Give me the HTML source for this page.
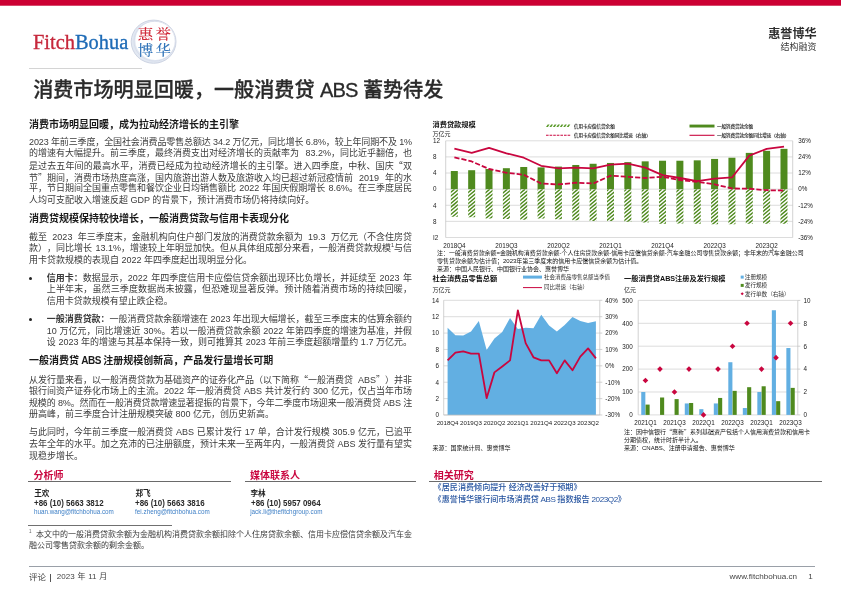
<!DOCTYPE html>
<html lang="zh-CN"><head><meta charset="utf-8"><title>消费市场明显回暖，一般消费贷 ABS 蓄势待发</title>
<style>
html,body{margin:0;padding:0;background:#fff}
body{width:841px;height:595px;position:relative;overflow:hidden;font-family:"Liberation Sans","Noto Sans CJK SC",sans-serif;color:#2b2b2b}
div,span,a{box-sizing:border-box}
.a{position:absolute;white-space:nowrap}
.cj{font-family:"Noto Sans CJK SC",sans-serif}
.topbar{left:0;top:0;width:841px;height:6px;background:linear-gradient(#cc0033 0,#cc0033 5px,#d64a6c 5.5px,#fff 6px)}
.ln{position:absolute;left:29px;width:383px;height:11px;line-height:11px;font-size:9px;white-space:nowrap;text-align:justify;text-align-last:justify;color:#3a3a3a;text-spacing-trim:space-all}
.ln.last{text-align:left;text-align-last:left}
.ln.b{left:46.8px;width:365.2px}
.h{position:absolute;left:29px;font-size:10px;font-weight:bold;line-height:12px;height:12px;white-space:nowrap;color:#1a1a1a}
.red{color:#c9063f}
.hl{position:absolute;height:0;border-top:1px solid #6a6a6a}
svg text{font-family:"Liberation Sans","Noto Sans CJK SC",sans-serif}
</style></head>
<body>
<div class="a topbar"></div>
<div class="a" id="logo" style="left:32.6px;top:29.2px;font-family:'Liberation Serif',serif;font-size:21.6px;line-height:26px;font-weight:normal;-webkit-text-stroke:0.35px;transform-origin:0 0;transform:scaleX(0.945)"><span style="color:#c6283c;-webkit-text-stroke-color:#c6283c">Fitch</span><span style="color:#1f6cb7;-webkit-text-stroke-color:#1f6cb7">Bohua</span></div>
<svg class="a" style="left:129px;top:15px" width="52" height="54" viewBox="0 0 52 54">
<ellipse cx="24.6" cy="26.7" rx="22.4" ry="21.6" fill="#e2e8f2" stroke="#c9d0e0" stroke-width="0.9"/>
<ellipse cx="26.3" cy="25.7" rx="19.9" ry="19.3" fill="#ffffff"/>
<ellipse cx="25.6" cy="26.2" rx="20.6" ry="19.9" fill="none" stroke="#d3d9e6" stroke-width="0.7"/>
<g transform="translate(0 19.5) scale(1 0.9) translate(0 -19.5)"><text x="26.6" y="24.6" text-anchor="middle" font-size="15.5" letter-spacing="2.4" style="font-family:'Noto Serif CJK SC','Liberation Serif',serif;font-weight:500" fill="#d02a3a">惠誉</text></g>
<g transform="translate(0 35.5) scale(1 0.9) translate(0 -35.5)"><text x="26.6" y="41" text-anchor="middle" font-size="15.5" letter-spacing="2.4" style="font-family:'Noto Serif CJK SC','Liberation Serif',serif;font-weight:500" fill="#3375ba">博华</text></g>
</svg>
<div class="a" style="left:29px;top:68px;width:113px;height:0;border-top:1px solid #d4d4d4"></div>
<div class="a" style="right:24.4px;top:26px;font-size:12.1px;font-weight:bold;line-height:16px;color:#2e2e2e;text-align:right">惠誉博华</div>
<div class="a" style="right:24.6px;top:41px;font-size:9px;line-height:12px;color:#3a3a3a;text-align:right">结构融资</div>
<div class="a" id="title" style="left:33.2px;top:75px;font-size:20.1px;font-weight:500;-webkit-text-stroke:0.3px #2a2a2a;line-height:30px;color:#2a2a2a">消费市场明显回暖，一般消费贷 <span style="letter-spacing:-1px">ABS</span> 蓄势待发</div>
<div class="h" style="top:118.50px">消费市场明显回暖，成为拉动经济增长的主引擎</div>
<div class="ln w" id="L0" style="top:136.80px;letter-spacing:-0.128px;">2023 年前三季度，全国社会消费品零售总额达 34.2 万亿元，同比增长 6.8%，较上年同期不及 1%</div>
<div class="ln w" id="L1" style="top:148.47px;word-spacing:3.969px;text-align:left;text-align-last:left;">的增速有大幅提升。前三季度，最终消费支出对经济增长的贡献率为 83.2%，同比近乎翻倍，也</div>
<div class="ln" id="L2" style="top:160.14px;">是过去五年间的最高水平，消费已经成为拉动经济增长的主引擎。进入四季度，中秋、国庆<span class="cj">“</span>双</div>
<div class="ln w" id="L3" style="top:171.81px;word-spacing:3.469px;text-align:left;text-align-last:left;">节<span class="cj">”</span>期间，消费市场热度高涨，国内旅游出游人数及旅游收入均已超过新冠疫情前 2019 年的水</div>
<div class="ln w" id="L4" style="top:183.48px;word-spacing:0.651px;text-align:left;text-align-last:left;">平，节日期间全国重点零售和餐饮企业日均销售额比 2022 年国庆假期增长 8.6%。在三季度居民</div>
<div class="ln last w" id="L5" style="top:195.15px;">人均可支配收入增速反超 GDP 的背景下，预计消费市场仍将持续向好。</div>
<div class="h" style="top:212.80px">消费贷规模保持较快增长，一般消费贷款与信用卡表现分化</div>
<div class="ln w" id="L6" style="top:231.50px;word-spacing:2.863px;text-align:left;text-align-last:left;">截至 2023 年三季度末，金融机构向住户部门发放的消费贷款余额为 19.3 万亿元（不含住房贷</div>
<div class="ln w" id="L7" style="top:243.17px;word-spacing:0.891px;text-align:left;text-align-last:left;">款），同比增长 13.1%，增速较上年明显加快。但从具体组成部分来看，一般消费贷款规模<sup style="font-size:5.5px;line-height:0">1</sup>与信</div>
<div class="ln last w" id="L8" style="top:254.84px;">用卡贷款规模的表现自 2022 年四季度起出现明显分化。</div>
<div class="a" style="left:28.9px;top:276.9px;width:3.3px;height:3.3px;border-radius:50%;background:#222"></div>
<div class="ln b w" id="L9" style="top:272.70px;word-spacing:0.879px;text-align:left;text-align-last:left;"><b>信用卡：</b>数据显示，2022 年四季度信用卡应偿信贷余额出现环比负增长，并延续至 2023 年</div>
<div class="ln b" id="L10" style="top:284.37px;">上半年末，虽然三季度数据尚未披露，但恐难现显著反弹。预计随着消费市场的持续回暖，</div>
<div class="ln b last" id="L11" style="top:296.04px;">信用卡贷款规模有望止跌企稳。</div>
<div class="a" style="left:28.9px;top:318.2px;width:3.3px;height:3.3px;border-radius:50%;background:#222"></div>
<div class="ln b w" id="L12" style="top:314.00px;letter-spacing:-0.047px;"><b>一般消费贷款：</b>一般消费贷款余额增速在 2023 年出现大幅增长，截至三季度末的估算余额约</div>
<div class="ln b w" id="L13" style="top:325.67px;word-spacing:0.284px;text-align:left;text-align-last:left;">10 万亿元，同比增速近 30%。若以一般消费贷款余额 2022 年第四季度的增速为基准，并假</div>
<div class="ln b w" id="L14" style="top:337.34px;word-spacing:0.106px;text-align:left;text-align-last:left;">设 2023 年的增速与其基本保持一致，则可推算其 2023 年前三季度超额增量约 1.7 万亿元。</div>
<div class="h" style="top:355.40px">一般消费贷<span style="letter-spacing:-0.5px"> ABS </span>注册规模创新高，产品发行量增长可期</div>
<div class="ln w" id="L15" style="top:374.40px;word-spacing:2.422px;text-align:left;text-align-last:left;">从发行量来看，以一般消费贷款为基础资产的证券化产品（以下简称<span class="cj">“</span>一般消费贷 ABS<span class="cj">”</span>）并非</div>
<div class="ln w" id="L16" style="top:386.07px;word-spacing:0.487px;text-align:left;text-align-last:left;">银行间资产证券化市场上的主流。2022 年一般消费贷 ABS 共计发行约 300 亿元，仅占当年市场</div>
<div class="ln w" id="L17" style="top:397.74px;letter-spacing:-0.143px;">规模的 8%。然而在一般消费贷款增速显著提振的背景下，今年二季度市场迎来一般消费贷 ABS 注</div>
<div class="ln last w" id="L18" style="top:409.41px;">册高峰，前三季度合计注册规模突破 800 亿元，创历史新高。</div>
<div class="ln w" id="L19" style="top:427.40px;word-spacing:0.409px;text-align:left;text-align-last:left;">与此同时，今年前三季度一般消费贷 ABS 已累计发行 17 单，合计发行规模 305.9 亿元，已追平</div>
<div class="ln w" id="L20" style="top:439.07px;letter-spacing:-0.005px;">去年全年的水平。加之充沛的已注册额度，预计未来一至两年内，一般消费贷 ABS 发行量有望实</div>
<div class="ln last" id="L21" style="top:450.74px;">现稳步增长。</div>
<div class="a red" style="left:33.4px;top:470px;font-size:10px;font-weight:bold;line-height:12px">分析师</div>
<div class="hl" style="left:28px;top:481px;width:202.5px"></div>
<div class="a red" style="left:249.9px;top:470px;font-size:10px;font-weight:bold;line-height:12px">媒体联系人</div>
<div class="hl" style="left:245px;top:481px;width:170.5px"></div>
<div class="a" style="left:34.2px;top:488.9px;font-size:7.6px;font-weight:bold;line-height:10px;color:#222">王欢</div>
<div class="a" style="left:34.2px;top:497.6px;font-size:8.7px;font-weight:bold;line-height:11px;color:#2a2a2a;transform-origin:0 0;transform:scaleX(0.915)">+86 (10) 5663 3812</div>
<div class="a" style="left:33.9px;top:507.7px;font-size:6.3px;line-height:8px;color:#3d7fc6">huan.wang@fitchbohua.com</div>
<div class="a" style="left:135.4px;top:488.9px;font-size:7.6px;font-weight:bold;line-height:10px;color:#222">郑飞</div>
<div class="a" style="left:135.4px;top:497.6px;font-size:8.7px;font-weight:bold;line-height:11px;color:#2a2a2a;transform-origin:0 0;transform:scaleX(0.915)">+86 (10) 5663 3816</div>
<div class="a" style="left:135.1px;top:507.7px;font-size:6.3px;line-height:8px;color:#3d7fc6">fei.zheng@fitchbohua.com</div>
<div class="a" style="left:250.5px;top:488.9px;font-size:7.6px;font-weight:bold;line-height:10px;color:#222">李林</div>
<div class="a" style="left:250.5px;top:497.6px;font-size:8.7px;font-weight:bold;line-height:11px;color:#2a2a2a;transform-origin:0 0;transform:scaleX(0.915)">+86 (10) 5957 0964</div>
<div class="a" style="left:250.2px;top:507.7px;font-size:6.3px;line-height:8px;color:#3d7fc6">jack.li@thefitchgroup.com</div>
<div class="hl" style="left:28px;top:525px;width:144px;border-top:1px solid #707070"></div>
<div class="ln w" id="L22" style="top:530.40px;font-size:8px;height:10px;line-height:10px;word-spacing:0.219px;text-align:left;text-align-last:left;"><sup style="font-size:4.5px;line-height:0;color:#666">1</sup>&nbsp;<span style="font-size:6.5px"> </span>本文中的一般消费贷款余额为金融机构消费贷款余额扣除个人住房贷款余额、信用卡应偿信贷余额及汽车金</div>
<div class="ln last" id="L23" style="top:541.10px;font-size:8px;height:10px;line-height:10px;">融公司零售贷款余额的剩余金额。</div>
<div class="a" style="left:28.7px;top:566px;width:786.5px;height:0;border-top:0.8px solid #9aa0a8"></div>
<div class="a" style="left:29px;top:570.5px;font-size:8.5px;line-height:12px;color:#444">评论</div>
<div class="a" style="left:50.2px;top:574.3px;width:0.9px;height:7.4px;background:#555"></div>
<div class="a" style="left:56.8px;top:570.9px;font-size:8px;line-height:12px;color:#444;word-spacing:0.6px">2023 年 11 月</div>
<div class="a" style="left:729.5px;top:570.9px;font-size:8.1px;line-height:12px;color:#444">www.fitchbohua.cn</div>
<div class="a" style="left:808.3px;top:570.9px;font-size:8.1px;line-height:12px;color:#444">1</div>
<div class="a red" style="left:433.7px;top:470px;font-size:10px;font-weight:bold;line-height:12px">相关研究</div>
<div class="hl" style="left:429px;top:481px;width:393px"></div>
<div class="a" style="left:433.6px;top:483px;font-size:8.1px;font-weight:500;line-height:10px;color:#25539f;text-spacing-trim:space-all">《居民消费倾向提升 经济改善好于预期》</div>
<div class="a" style="left:433.6px;top:495.4px;font-size:8.1px;font-weight:500;line-height:10px;color:#25539f;text-spacing-trim:space-all;word-spacing:-0.5px">《惠誉博华银行间市场消费贷 <span style="letter-spacing:-0.4px">ABS</span> 指数报告 <span style="letter-spacing:-0.4px">2023Q2</span>》</div>
<svg class="a" style="left:0;top:0" width="841" height="595" viewBox="0 0 841 595"><text x="432.50" y="126.60" font-size="7.2" text-anchor="start" font-weight="bold" fill="#111" >消费贷款规模</text>
<text x="432.50" y="135.60" font-size="6" text-anchor="start" font-weight="normal" fill="#222" >万亿元</text>
<line x1="445.70" y1="140.80" x2="792.70" y2="140.80" stroke="#d6d6d6" stroke-width="0.85"/>
<text x="433.00" y="143.10" font-size="6.3" text-anchor="start" font-weight="normal" fill="#222" >12</text>
<line x1="445.70" y1="156.92" x2="792.70" y2="156.92" stroke="#d6d6d6" stroke-width="0.85"/>
<text x="433.00" y="159.22" font-size="6.3" text-anchor="start" font-weight="normal" fill="#222" >8</text>
<line x1="445.70" y1="173.03" x2="792.70" y2="173.03" stroke="#d6d6d6" stroke-width="0.85"/>
<text x="433.00" y="175.33" font-size="6.3" text-anchor="start" font-weight="normal" fill="#222" >4</text>
<line x1="445.70" y1="189.15" x2="792.70" y2="189.15" stroke="#d6d6d6" stroke-width="0.85"/>
<text x="433.00" y="191.45" font-size="6.3" text-anchor="start" font-weight="normal" fill="#222" >0</text>
<line x1="445.70" y1="205.27" x2="792.70" y2="205.27" stroke="#d6d6d6" stroke-width="0.85"/>
<text x="433.00" y="207.57" font-size="6.3" text-anchor="start" font-weight="normal" fill="#222" >4</text>
<line x1="445.70" y1="221.38" x2="792.70" y2="221.38" stroke="#d6d6d6" stroke-width="0.85"/>
<text x="433.00" y="223.68" font-size="6.3" text-anchor="start" font-weight="normal" fill="#222" >8</text>
<line x1="445.70" y1="237.50" x2="792.70" y2="237.50" stroke="#d6d6d6" stroke-width="0.85"/>
<text x="433.00" y="239.80" font-size="6.3" text-anchor="start" font-weight="normal" fill="#222" >I2</text>
<text x="798.20" y="143.10" font-size="6.3" text-anchor="start" font-weight="normal" fill="#222" >36%</text>
<text x="798.20" y="159.22" font-size="6.3" text-anchor="start" font-weight="normal" fill="#222" >24%</text>
<text x="798.20" y="175.33" font-size="6.3" text-anchor="start" font-weight="normal" fill="#222" >12%</text>
<text x="798.20" y="191.45" font-size="6.3" text-anchor="start" font-weight="normal" fill="#222" >0%</text>
<text x="798.20" y="207.57" font-size="6.3" text-anchor="start" font-weight="normal" fill="#222" >-12%</text>
<text x="798.20" y="223.68" font-size="6.3" text-anchor="start" font-weight="normal" fill="#222" >-24%</text>
<text x="798.20" y="239.80" font-size="6.3" text-anchor="start" font-weight="normal" fill="#222" >-36%</text>
<line x1="445.70" y1="140.80" x2="445.70" y2="237.50" stroke="#bfbfbf" stroke-width="0.7"/>
<line x1="792.70" y1="140.80" x2="792.70" y2="237.50" stroke="#bfbfbf" stroke-width="0.7"/>
<rect x="450.82" y="171.02" width="7" height="18.13" fill="#4f8a1e"/>
<rect x="468.17" y="170.21" width="7" height="18.94" fill="#4f8a1e"/>
<rect x="485.52" y="169.00" width="7" height="20.15" fill="#4f8a1e"/>
<rect x="502.88" y="168.20" width="7" height="20.95" fill="#4f8a1e"/>
<rect x="520.23" y="166.99" width="7" height="22.16" fill="#4f8a1e"/>
<rect x="537.58" y="167.39" width="7" height="21.76" fill="#4f8a1e"/>
<rect x="554.93" y="166.59" width="7" height="22.56" fill="#4f8a1e"/>
<rect x="572.28" y="164.98" width="7" height="24.17" fill="#4f8a1e"/>
<rect x="589.62" y="163.77" width="7" height="25.38" fill="#4f8a1e"/>
<rect x="606.98" y="162.96" width="7" height="26.19" fill="#4f8a1e"/>
<rect x="624.33" y="162.15" width="7" height="27.00" fill="#4f8a1e"/>
<rect x="641.68" y="161.35" width="7" height="27.80" fill="#4f8a1e"/>
<rect x="659.03" y="160.74" width="7" height="28.41" fill="#4f8a1e"/>
<rect x="676.38" y="160.74" width="7" height="28.41" fill="#4f8a1e"/>
<rect x="693.73" y="160.34" width="7" height="28.81" fill="#4f8a1e"/>
<rect x="711.08" y="158.93" width="7" height="30.22" fill="#4f8a1e"/>
<rect x="728.43" y="157.72" width="7" height="31.43" fill="#4f8a1e"/>
<rect x="745.78" y="152.89" width="7" height="36.26" fill="#4f8a1e"/>
<rect x="763.12" y="150.87" width="7" height="38.28" fill="#4f8a1e"/>
<rect x="780.48" y="148.86" width="7" height="40.29" fill="#4f8a1e"/>
<clipPath id="hc"><rect x="450.82" y="189.15" width="7.00" height="27.60"/><rect x="468.17" y="189.15" width="7.00" height="28.20"/><rect x="485.52" y="189.15" width="7.00" height="29.41"/><rect x="502.88" y="189.15" width="7.00" height="29.82"/><rect x="520.23" y="189.15" width="7.00" height="30.62"/><rect x="537.58" y="189.15" width="7.00" height="29.41"/><rect x="554.93" y="189.15" width="7.00" height="30.22"/><rect x="572.28" y="189.15" width="7.00" height="31.02"/><rect x="589.62" y="189.15" width="7.00" height="31.83"/><rect x="606.98" y="189.15" width="7.00" height="31.83"/><rect x="624.33" y="189.15" width="7.00" height="32.64"/><rect x="641.68" y="189.15" width="7.00" height="33.44"/><rect x="659.03" y="189.15" width="7.00" height="34.65"/><rect x="676.38" y="189.15" width="7.00" height="34.25"/><rect x="693.73" y="189.15" width="7.00" height="34.65"/><rect x="711.08" y="189.15" width="7.00" height="35.05"/><rect x="728.43" y="189.15" width="7.00" height="35.05"/><rect x="745.78" y="189.15" width="7.00" height="34.65"/><rect x="763.12" y="189.15" width="7.00" height="34.65"/><rect x="780.48" y="189.15" width="7.00" height="34.65"/></clipPath>
<path d="M400.41 227.15 L445.70 189.15 M404.82 227.15 L450.11 189.15 M409.23 227.15 L454.52 189.15 M413.64 227.15 L458.93 189.15 M418.05 227.15 L463.34 189.15 M422.46 227.15 L467.75 189.15 M426.87 227.15 L472.16 189.15 M431.28 227.15 L476.57 189.15 M435.69 227.15 L480.98 189.15 M440.10 227.15 L485.39 189.15 M444.51 227.15 L489.79 189.15 M448.92 227.15 L494.20 189.15 M453.33 227.15 L498.61 189.15 M457.74 227.15 L503.02 189.15 M462.15 227.15 L507.43 189.15 M466.56 227.15 L511.84 189.15 M470.97 227.15 L516.25 189.15 M475.37 227.15 L520.66 189.15 M479.78 227.15 L525.07 189.15 M484.19 227.15 L529.48 189.15 M488.60 227.15 L533.89 189.15 M493.01 227.15 L538.30 189.15 M497.42 227.15 L542.71 189.15 M501.83 227.15 L547.12 189.15 M506.24 227.15 L551.53 189.15 M510.65 227.15 L555.94 189.15 M515.06 227.15 L560.35 189.15 M519.47 227.15 L564.76 189.15 M523.88 227.15 L569.17 189.15 M528.29 227.15 L573.58 189.15 M532.70 227.15 L577.98 189.15 M537.11 227.15 L582.39 189.15 M541.52 227.15 L586.80 189.15 M545.93 227.15 L591.21 189.15 M550.34 227.15 L595.62 189.15 M554.75 227.15 L600.03 189.15 M559.15 227.15 L604.44 189.15 M563.56 227.15 L608.85 189.15 M567.97 227.15 L613.26 189.15 M572.38 227.15 L617.67 189.15 M576.79 227.15 L622.08 189.15 M581.20 227.15 L626.49 189.15 M585.61 227.15 L630.90 189.15 M590.02 227.15 L635.31 189.15 M594.43 227.15 L639.72 189.15 M598.84 227.15 L644.13 189.15 M603.25 227.15 L648.54 189.15 M607.66 227.15 L652.95 189.15 M612.07 227.15 L657.36 189.15 M616.48 227.15 L661.76 189.15 M620.89 227.15 L666.17 189.15 M625.30 227.15 L670.58 189.15 M629.71 227.15 L674.99 189.15 M634.12 227.15 L679.40 189.15 M638.53 227.15 L683.81 189.15 M642.94 227.15 L688.22 189.15 M647.34 227.15 L692.63 189.15 M651.75 227.15 L697.04 189.15 M656.16 227.15 L701.45 189.15 M660.57 227.15 L705.86 189.15 M664.98 227.15 L710.27 189.15 M669.39 227.15 L714.68 189.15 M673.80 227.15 L719.09 189.15 M678.21 227.15 L723.50 189.15 M682.62 227.15 L727.91 189.15 M687.03 227.15 L732.32 189.15 M691.44 227.15 L736.73 189.15 M695.85 227.15 L741.14 189.15 M700.26 227.15 L745.55 189.15 M704.67 227.15 L749.95 189.15 M709.08 227.15 L754.36 189.15 M713.49 227.15 L758.77 189.15 M717.90 227.15 L763.18 189.15 M722.31 227.15 L767.59 189.15 M726.72 227.15 L772.00 189.15 M731.12 227.15 L776.41 189.15 M735.53 227.15 L780.82 189.15 M739.94 227.15 L785.23 189.15 M744.35 227.15 L789.64 189.15 M748.76 227.15 L794.05 189.15 M753.17 227.15 L798.46 189.15 M757.58 227.15 L802.87 189.15 M761.99 227.15 L807.28 189.15 M766.40 227.15 L811.69 189.15 M770.81 227.15 L816.10 189.15 M775.22 227.15 L820.51 189.15 M779.63 227.15 L824.92 189.15 M784.04 227.15 L829.33 189.15 M788.45 227.15 L833.73 189.15" stroke="#4f8a1e" stroke-width="1.40" fill="none" clip-path="url(#hc)"/>
<polyline points="454.38,148.59 471.72,152.89 489.07,147.78 506.43,153.29 523.77,157.72 541.12,165.78 558.48,168.33 575.83,167.53 593.17,168.47 610.52,164.71 627.88,163.63 645.23,167.66 662.58,175.05 679.92,178.00 697.27,181.09 714.62,178.54 731.98,177.47 749.33,155.57 766.67,148.86 784.03,146.71" fill="none" stroke="#c9063f" stroke-width="1.8" stroke-linejoin="round"/>
<polyline points="454.38,157.32 471.72,161.48 489.07,169.00 506.43,172.76 523.77,174.78 541.12,183.51 558.48,184.45 575.83,182.70 593.17,183.51 610.52,175.72 627.88,176.79 645.23,178.00 662.58,176.79 679.92,180.02 697.27,181.76 714.62,184.31 731.98,188.48 749.33,188.75 766.67,190.22 784.03,190.49" fill="none" stroke="#c9063f" stroke-width="1.8" stroke-dasharray="5.2 2" stroke-linejoin="round"/>
<text x="454.38" y="247.60" font-size="6.3" text-anchor="middle" font-weight="normal" fill="#222" >2018Q4</text>
<text x="506.43" y="247.60" font-size="6.3" text-anchor="middle" font-weight="normal" fill="#222" >2019Q3</text>
<text x="558.48" y="247.60" font-size="6.3" text-anchor="middle" font-weight="normal" fill="#222" >2020Q2</text>
<text x="610.52" y="247.60" font-size="6.3" text-anchor="middle" font-weight="normal" fill="#222" >2021Q1</text>
<text x="662.58" y="247.60" font-size="6.3" text-anchor="middle" font-weight="normal" fill="#222" >2021Q4</text>
<text x="714.62" y="247.60" font-size="6.3" text-anchor="middle" font-weight="normal" fill="#222" >2022Q3</text>
<text x="766.67" y="247.60" font-size="6.3" text-anchor="middle" font-weight="normal" fill="#222" >2023Q2</text>
<g fill="#5a9a2a"><polygon points="546.00,127 547.90,127 549.60,124.5 547.70,124.5"/><polygon points="549.45,127 551.35,127 553.05,124.5 551.15,124.5"/><polygon points="552.90,127 554.80,127 556.50,124.5 554.60,124.5"/><polygon points="556.35,127 558.25,127 559.95,124.5 558.05,124.5"/><polygon points="559.80,127 561.70,127 563.40,124.5 561.50,124.5"/><polygon points="563.25,127 565.15,127 566.85,124.5 564.95,124.5"/><polygon points="566.70,127 568.60,127 570.30,124.5 568.40,124.5"/></g>
<text x="574.00" y="127.60" font-size="4.53" text-anchor="start" font-weight="normal" fill="#1a1a1a" stroke="#1a1a1a" stroke-width="0.12">信用卡应偿信贷余额</text>
<line x1="546" y1="135.2" x2="570.5" y2="135.2" stroke="#c9063f" stroke-width="1.1" stroke-dasharray="2.6 1"/>
<text x="574.00" y="137.10" font-size="4.53" text-anchor="start" font-weight="normal" fill="#1a1a1a" stroke="#1a1a1a" stroke-width="0.12">信用卡应偿信贷余额同比增速（右轴）</text>
<rect x="689.5" y="124.6" width="25" height="2.9" fill="#4f8a1e"/>
<text x="717.00" y="127.60" font-size="4.53" text-anchor="start" font-weight="normal" fill="#1a1a1a" stroke="#1a1a1a" stroke-width="0.12">一般消费贷款余额</text>
<line x1="689.5" y1="135.3" x2="714.5" y2="135.3" stroke="#c9063f" stroke-width="1.1"/>
<text x="717.00" y="137.10" font-size="4.53" text-anchor="start" font-weight="normal" fill="#1a1a1a" stroke="#1a1a1a" stroke-width="0.12">一般消费贷款余额同比增速（右轴）</text>
<text x="437.00" y="255.00" font-size="5.96" text-anchor="start" font-weight="normal" fill="#111" >注：一般消费贷款余额=金融机构消费贷款余额-个人住房贷款余额-信用卡应偿信贷余额-汽车金融公司零售贷款余额；非年末的汽车金融公司</text>
<text x="437.00" y="262.90" font-size="6" text-anchor="start" font-weight="normal" fill="#111" >零售贷款余额为估计值；2023年第三季度末的信用卡应偿信贷余额为估计值。</text>
<text x="437.00" y="270.70" font-size="6" text-anchor="start" font-weight="normal" fill="#111" >来源：中国人民银行、中国银行业协会、惠誉博华</text>
<text x="432.50" y="281.00" font-size="7.2" text-anchor="start" font-weight="bold" fill="#111" >社会消费品零售总额</text>
<text x="432.50" y="292.20" font-size="6" text-anchor="start" font-weight="normal" fill="#222" >万亿元</text>
<rect x="523" y="275.6" width="19" height="3" fill="#62afe2"/>
<text x="544.00" y="279.40" font-size="5.5" text-anchor="start" font-weight="normal" fill="#333" >社会消费品零售总额当季值</text>
<line x1="523" y1="287.6" x2="542" y2="287.6" stroke="#c9063f" stroke-width="1"/>
<text x="544.00" y="289.20" font-size="5.5" text-anchor="start" font-weight="normal" fill="#333" >同比增速（右轴）</text>
<line x1="443.70" y1="300.30" x2="599.80" y2="300.30" stroke="#d6d6d6" stroke-width="0.85"/>
<text x="439.00" y="302.60" font-size="6.3" text-anchor="end" font-weight="normal" fill="#222" >14</text>
<line x1="443.70" y1="316.69" x2="599.80" y2="316.69" stroke="#d6d6d6" stroke-width="0.85"/>
<text x="439.00" y="318.99" font-size="6.3" text-anchor="end" font-weight="normal" fill="#222" >12</text>
<line x1="443.70" y1="333.07" x2="599.80" y2="333.07" stroke="#d6d6d6" stroke-width="0.85"/>
<text x="439.00" y="335.37" font-size="6.3" text-anchor="end" font-weight="normal" fill="#222" >10</text>
<line x1="443.70" y1="349.46" x2="599.80" y2="349.46" stroke="#d6d6d6" stroke-width="0.85"/>
<text x="439.00" y="351.76" font-size="6.3" text-anchor="end" font-weight="normal" fill="#222" >8</text>
<line x1="443.70" y1="365.84" x2="599.80" y2="365.84" stroke="#d6d6d6" stroke-width="0.85"/>
<text x="439.00" y="368.14" font-size="6.3" text-anchor="end" font-weight="normal" fill="#222" >6</text>
<line x1="443.70" y1="382.23" x2="599.80" y2="382.23" stroke="#d6d6d6" stroke-width="0.85"/>
<text x="439.00" y="384.53" font-size="6.3" text-anchor="end" font-weight="normal" fill="#222" >4</text>
<line x1="443.70" y1="398.61" x2="599.80" y2="398.61" stroke="#d6d6d6" stroke-width="0.85"/>
<text x="439.00" y="400.91" font-size="6.3" text-anchor="end" font-weight="normal" fill="#222" >2</text>
<line x1="443.70" y1="415.00" x2="599.80" y2="415.00" stroke="#d6d6d6" stroke-width="0.85"/>
<text x="439.00" y="417.30" font-size="6.3" text-anchor="end" font-weight="normal" fill="#222" >0</text>
<polygon points="447.60,327.80 455.41,335.23 463.21,335.45 471.02,331.52 478.82,321.03 486.63,350.09 494.43,338.51 502.24,331.95 510.04,317.97 517.85,328.89 525.65,327.80 533.46,328.24 541.26,314.69 549.07,325.62 556.87,331.52 564.68,324.96 572.48,317.10 580.29,321.03 588.09,322.99 595.90,321.25 595.90,415.00 447.60,415.00" fill="#62afe2"/>
<line x1="443.70" y1="300.30" x2="443.70" y2="415.00" stroke="#bfbfbf" stroke-width="0.7"/>
<line x1="599.80" y1="300.30" x2="599.80" y2="415.00" stroke="#bfbfbf" stroke-width="0.7"/>
<line x1="443.70" y1="415.00" x2="599.80" y2="415.00" stroke="#bfbfbf" stroke-width="0.7"/>
<line x1="599.80" y1="300.30" x2="602.30" y2="300.30" stroke="#bfbfbf" stroke-width="0.7"/>
<text x="605.30" y="302.60" font-size="6.3" text-anchor="start" font-weight="normal" fill="#222" >40%</text>
<line x1="599.80" y1="316.69" x2="602.30" y2="316.69" stroke="#bfbfbf" stroke-width="0.7"/>
<text x="605.30" y="318.99" font-size="6.3" text-anchor="start" font-weight="normal" fill="#222" >30%</text>
<line x1="599.80" y1="333.07" x2="602.30" y2="333.07" stroke="#bfbfbf" stroke-width="0.7"/>
<text x="605.30" y="335.37" font-size="6.3" text-anchor="start" font-weight="normal" fill="#222" >20%</text>
<line x1="599.80" y1="349.46" x2="602.30" y2="349.46" stroke="#bfbfbf" stroke-width="0.7"/>
<text x="605.30" y="351.76" font-size="6.3" text-anchor="start" font-weight="normal" fill="#222" >10%</text>
<line x1="599.80" y1="365.84" x2="602.30" y2="365.84" stroke="#bfbfbf" stroke-width="0.7"/>
<text x="605.30" y="368.14" font-size="6.3" text-anchor="start" font-weight="normal" fill="#222" >0%</text>
<line x1="599.80" y1="382.23" x2="602.30" y2="382.23" stroke="#bfbfbf" stroke-width="0.7"/>
<text x="605.30" y="384.53" font-size="6.3" text-anchor="start" font-weight="normal" fill="#222" >-10%</text>
<line x1="599.80" y1="398.61" x2="602.30" y2="398.61" stroke="#bfbfbf" stroke-width="0.7"/>
<text x="605.30" y="400.91" font-size="6.3" text-anchor="start" font-weight="normal" fill="#222" >-20%</text>
<line x1="599.80" y1="415.00" x2="602.30" y2="415.00" stroke="#bfbfbf" stroke-width="0.7"/>
<text x="605.30" y="417.30" font-size="6.3" text-anchor="start" font-weight="normal" fill="#222" >-30%</text>
<polyline points="447.60,360.36 455.41,352.71 463.21,351.40 471.02,353.59 478.82,353.59 486.63,398.16 494.43,372.38 502.24,366.48 510.04,360.36 517.85,310.32 525.65,343.10 533.46,357.30 541.26,360.36 549.07,360.36 556.87,373.25 564.68,360.36 572.48,370.19 580.29,356.65 588.09,348.34 595.90,358.39" fill="none" stroke="#c9063f" stroke-width="1.8" stroke-linejoin="round"/>
<text x="447.60" y="425.30" font-size="6.15" text-anchor="middle" font-weight="normal" fill="#222" >2018Q4</text>
<text x="471.02" y="425.30" font-size="6.15" text-anchor="middle" font-weight="normal" fill="#222" >2019Q3</text>
<text x="494.43" y="425.30" font-size="6.15" text-anchor="middle" font-weight="normal" fill="#222" >2020Q2</text>
<text x="517.85" y="425.30" font-size="6.15" text-anchor="middle" font-weight="normal" fill="#222" >2021Q1</text>
<text x="541.26" y="425.30" font-size="6.15" text-anchor="middle" font-weight="normal" fill="#222" >2021Q4</text>
<text x="564.68" y="425.30" font-size="6.15" text-anchor="middle" font-weight="normal" fill="#222" >2022Q3</text>
<text x="588.09" y="425.30" font-size="6.15" text-anchor="middle" font-weight="normal" fill="#222" >2023Q2</text>
<text x="432.50" y="450.30" font-size="6" text-anchor="start" font-weight="normal" fill="#111" >来源：国家统计局、惠誉博华</text>
<text x="624.00" y="281.00" font-size="7.2" text-anchor="start" font-weight="bold" fill="#111" >一般消费贷ABS注册及发行规模</text>
<text x="624.00" y="292.00" font-size="6" text-anchor="start" font-weight="normal" fill="#222" >亿元</text>
<rect x="740.7" y="275.6" width="3" height="3" fill="#62afe2"/>
<text x="744.80" y="279.00" font-size="5.6" text-anchor="start" font-weight="normal" fill="#333" >注册规模</text>
<rect x="740.7" y="283.9" width="3" height="3" fill="#4f8a1e"/>
<text x="744.80" y="287.30" font-size="5.6" text-anchor="start" font-weight="normal" fill="#333" >发行规模</text>
<rect x="741.1" y="292.6" width="2.2" height="2.2" fill="#c9063f" transform="rotate(45 742.2 293.7)"/>
<text x="744.80" y="295.70" font-size="5.6" text-anchor="start" font-weight="normal" fill="#333" >发行单数（右轴）</text>
<line x1="638.20" y1="300.40" x2="797.80" y2="300.40" stroke="#d6d6d6" stroke-width="0.85"/>
<text x="632.80" y="302.70" font-size="6.3" text-anchor="end" font-weight="normal" fill="#222" >500</text>
<line x1="638.20" y1="323.30" x2="797.80" y2="323.30" stroke="#d6d6d6" stroke-width="0.85"/>
<text x="632.80" y="325.60" font-size="6.3" text-anchor="end" font-weight="normal" fill="#222" >400</text>
<line x1="638.20" y1="346.20" x2="797.80" y2="346.20" stroke="#d6d6d6" stroke-width="0.85"/>
<text x="632.80" y="348.50" font-size="6.3" text-anchor="end" font-weight="normal" fill="#222" >300</text>
<line x1="638.20" y1="369.10" x2="797.80" y2="369.10" stroke="#d6d6d6" stroke-width="0.85"/>
<text x="632.80" y="371.40" font-size="6.3" text-anchor="end" font-weight="normal" fill="#222" >200</text>
<line x1="638.20" y1="392.00" x2="797.80" y2="392.00" stroke="#d6d6d6" stroke-width="0.85"/>
<text x="632.80" y="394.30" font-size="6.3" text-anchor="end" font-weight="normal" fill="#222" >100</text>
<line x1="638.20" y1="414.90" x2="797.80" y2="414.90" stroke="#d6d6d6" stroke-width="0.85"/>
<text x="632.80" y="417.20" font-size="6.3" text-anchor="end" font-weight="normal" fill="#222" >0</text>
<line x1="797.80" y1="300.40" x2="800.30" y2="300.40" stroke="#bfbfbf" stroke-width="0.7"/>
<text x="803.40" y="302.70" font-size="6.3" text-anchor="start" font-weight="normal" fill="#222" >10</text>
<line x1="797.80" y1="323.30" x2="800.30" y2="323.30" stroke="#bfbfbf" stroke-width="0.7"/>
<text x="803.40" y="325.60" font-size="6.3" text-anchor="start" font-weight="normal" fill="#222" >8</text>
<line x1="797.80" y1="346.20" x2="800.30" y2="346.20" stroke="#bfbfbf" stroke-width="0.7"/>
<text x="803.40" y="348.50" font-size="6.3" text-anchor="start" font-weight="normal" fill="#222" >6</text>
<line x1="797.80" y1="369.10" x2="800.30" y2="369.10" stroke="#bfbfbf" stroke-width="0.7"/>
<text x="803.40" y="371.40" font-size="6.3" text-anchor="start" font-weight="normal" fill="#222" >4</text>
<line x1="797.80" y1="392.00" x2="800.30" y2="392.00" stroke="#bfbfbf" stroke-width="0.7"/>
<text x="803.40" y="394.30" font-size="6.3" text-anchor="start" font-weight="normal" fill="#222" >2</text>
<line x1="797.80" y1="414.90" x2="800.30" y2="414.90" stroke="#bfbfbf" stroke-width="0.7"/>
<text x="803.40" y="417.20" font-size="6.3" text-anchor="start" font-weight="normal" fill="#222" >0</text>
<line x1="638.20" y1="300.40" x2="638.20" y2="414.90" stroke="#bfbfbf" stroke-width="0.7"/>
<line x1="797.80" y1="300.40" x2="797.80" y2="414.90" stroke="#bfbfbf" stroke-width="0.7"/>
<rect x="641.25" y="392.00" width="4.1" height="22.90" fill="#62afe2"/>
<rect x="645.55" y="404.59" width="4.1" height="10.30" fill="#4f8a1e"/>
<rect x="660.06" y="397.50" width="4.1" height="17.40" fill="#4f8a1e"/>
<rect x="674.57" y="399.10" width="4.1" height="15.80" fill="#4f8a1e"/>
<rect x="684.78" y="403.45" width="4.1" height="11.45" fill="#62afe2"/>
<rect x="689.08" y="402.99" width="4.1" height="11.91" fill="#4f8a1e"/>
<rect x="699.29" y="409.17" width="4.1" height="5.72" fill="#62afe2"/>
<rect x="713.80" y="403.45" width="4.1" height="11.45" fill="#62afe2"/>
<rect x="718.10" y="397.95" width="4.1" height="16.95" fill="#4f8a1e"/>
<rect x="728.31" y="362.23" width="4.1" height="52.67" fill="#62afe2"/>
<rect x="732.61" y="390.85" width="4.1" height="24.04" fill="#4f8a1e"/>
<rect x="742.82" y="408.03" width="4.1" height="6.87" fill="#62afe2"/>
<rect x="747.12" y="387.19" width="4.1" height="27.71" fill="#4f8a1e"/>
<rect x="757.33" y="392.00" width="4.1" height="22.90" fill="#62afe2"/>
<rect x="761.63" y="386.27" width="4.1" height="28.62" fill="#4f8a1e"/>
<rect x="771.84" y="310.25" width="4.1" height="104.65" fill="#62afe2"/>
<rect x="776.14" y="401.16" width="4.1" height="13.74" fill="#4f8a1e"/>
<rect x="786.35" y="348.03" width="4.1" height="66.87" fill="#62afe2"/>
<rect x="790.65" y="387.88" width="4.1" height="27.02" fill="#4f8a1e"/>
<polygon points="645.45,377.75 648.25,380.55 645.45,383.35 642.65,380.55" fill="#c9063f"/>
<polygon points="659.96,366.30 662.76,369.10 659.96,371.90 657.16,369.10" fill="#c9063f"/>
<polygon points="674.47,389.20 677.27,392.00 674.47,394.80 671.67,392.00" fill="#c9063f"/>
<polygon points="688.98,366.30 691.78,369.10 688.98,371.90 686.18,369.10" fill="#c9063f"/>
<polygon points="703.49,412.10 706.29,414.90 703.49,417.70 700.69,414.90" fill="#c9063f"/>
<polygon points="718.00,366.30 720.80,369.10 718.00,371.90 715.20,369.10" fill="#c9063f"/>
<polygon points="732.51,343.40 735.31,346.20 732.51,349.00 729.71,346.20" fill="#c9063f"/>
<polygon points="747.02,320.50 749.82,323.30 747.02,326.10 744.22,323.30" fill="#c9063f"/>
<polygon points="761.53,366.30 764.33,369.10 761.53,371.90 758.73,369.10" fill="#c9063f"/>
<polygon points="776.04,354.85 778.84,357.65 776.04,360.45 773.24,357.65" fill="#c9063f"/>
<polygon points="790.55,320.50 793.35,323.30 790.55,326.10 787.75,323.30" fill="#c9063f"/>
<text x="645.45" y="425.20" font-size="6.3" text-anchor="middle" font-weight="normal" fill="#222" >2021Q1</text>
<text x="674.47" y="425.20" font-size="6.3" text-anchor="middle" font-weight="normal" fill="#222" >2021Q3</text>
<text x="703.49" y="425.20" font-size="6.3" text-anchor="middle" font-weight="normal" fill="#222" >2022Q1</text>
<text x="732.51" y="425.20" font-size="6.3" text-anchor="middle" font-weight="normal" fill="#222" >2022Q3</text>
<text x="761.53" y="425.20" font-size="6.3" text-anchor="middle" font-weight="normal" fill="#222" >2023Q1</text>
<text x="790.55" y="425.20" font-size="6.3" text-anchor="middle" font-weight="normal" fill="#222" >2023Q3</text>
<text x="624.00" y="434.30" font-size="6" text-anchor="start" font-weight="normal" fill="#111" >注：因中信银行<tspan style="font-family:'Noto Sans CJK SC',sans-serif">“</tspan>惠新<tspan style="font-family:'Noto Sans CJK SC',sans-serif">”</tspan>系列基础资产包括个人信用消费贷款和信用卡</text>
<text x="624.00" y="442.10" font-size="6" text-anchor="start" font-weight="normal" fill="#111" >分期债权，统计时折半计入。</text>
<text x="624.00" y="450.10" font-size="6" text-anchor="start" font-weight="normal" fill="#111" >来源：CNABS、注册申请报告、惠誉博华</text></svg>
</body></html>
